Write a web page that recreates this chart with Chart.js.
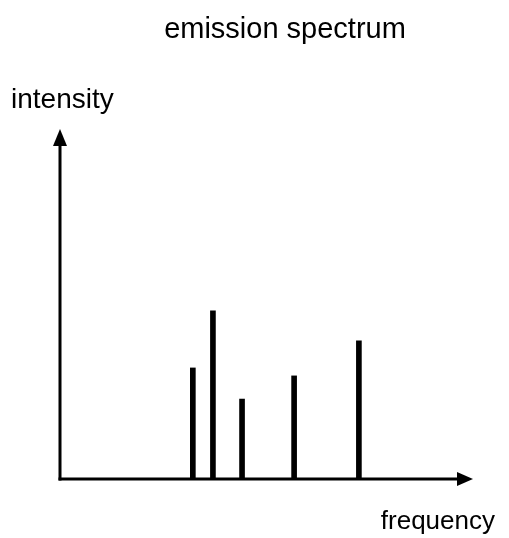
<!doctype html>
<html>
  <head>
    <script src="https://cdn.jsdelivr.net/npm/chart.js@4"></script>
    <style>
      body { margin: 0; background: #fff; }
    </style>
  </head>

  <body>
    <canvas id="canvas" width="509" height="538"></canvas>
    <script>
      const title = 'emission spectrum';
      const yLabel = 'intensity';
      const xLabel = 'frequency';
      // line positions (arbitrary frequency units) and their heights
      const frequencies = [32.4, 37.3, 44.4, 57.1, 72.9];
      const intensities = [32.1, 48.6, 23.1, 29.8, 39.9];

      const family = '"Liberation Sans", Arial, sans-serif';

      const axesPlugin = {
        id: 'axes',
        afterDraw(chart) {
          const ctx = chart.ctx;
          const a = chart.chartArea;
          ctx.save();
          ctx.strokeStyle = '#000';
          ctx.fillStyle = '#000';
          ctx.lineWidth = 3;
          // y axis
          ctx.beginPath();
          ctx.moveTo(a.left, a.bottom + 1.5);
          ctx.lineTo(a.left, a.top + 10);
          ctx.stroke();
          ctx.beginPath();
          ctx.moveTo(a.left, a.top - 4);
          ctx.lineTo(a.left - 7, a.top + 13);
          ctx.lineTo(a.left + 7, a.top + 13);
          ctx.closePath();
          ctx.fill();
          // x axis
          ctx.beginPath();
          ctx.moveTo(a.left - 1.5, a.bottom);
          ctx.lineTo(a.right - 10, a.bottom);
          ctx.stroke();
          ctx.beginPath();
          ctx.moveTo(a.right + 3, a.bottom);
          ctx.lineTo(a.right - 13, a.bottom - 7);
          ctx.lineTo(a.right - 13, a.bottom + 7);
          ctx.closePath();
          ctx.fill();
          // labels
          ctx.textBaseline = 'middle';
          ctx.font = '29px ' + family;
          ctx.textAlign = 'center';
          ctx.fillText(title, 285, 30);
          ctx.font = '28px ' + family;
          ctx.textAlign = 'left';
          ctx.fillText(yLabel, 11, 100);
          ctx.font = '26px ' + family;
          ctx.textAlign = 'right';
          ctx.fillText(xLabel, 495, 522);
          ctx.restore();
        },
      };

      new Chart(document.getElementById('canvas').getContext('2d'), {
        type: 'bar',
        data: {
          datasets: [
            {
              data: frequencies.map((f, i) => ({ x: f, y: intensities[i] })),
              backgroundColor: '#000',
              barThickness: 5,
            },
          ],
        },
        options: {
          responsive: false,
          animation: false,
          layout: { padding: { left: 60, right: 39, top: 133, bottom: 59 } },
          plugins: { legend: { display: false }, tooltip: { enabled: false } },
          scales: {
            x: { type: 'linear', min: 0, max: 100, offset: false, display: false },
            y: { min: 0, max: 100, display: false },
          },
        },
        plugins: [axesPlugin],
      });
    </script>
  </body>
</html>
